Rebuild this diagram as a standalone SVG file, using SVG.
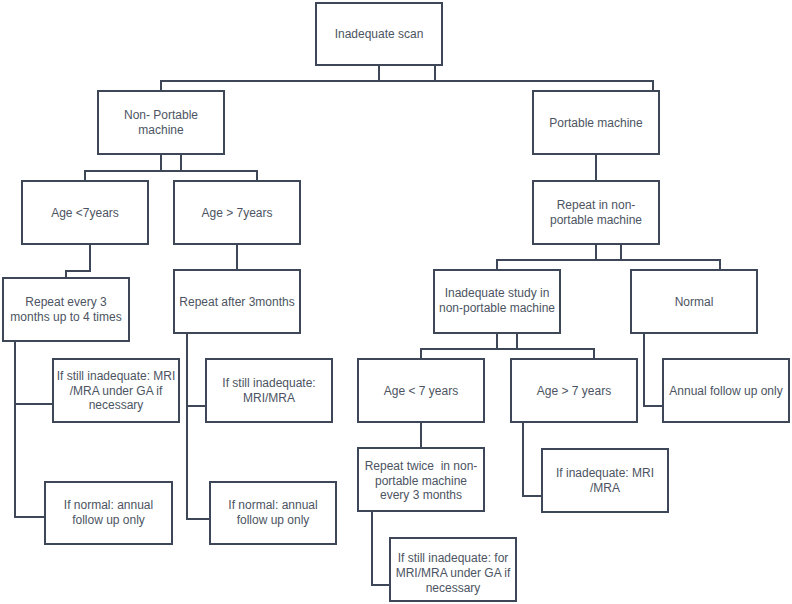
<svg xmlns="http://www.w3.org/2000/svg" width="792" height="604" viewBox="0 0 792 604">
<style>
rect{fill:#fff;stroke:#3d4757;stroke-width:2}
text{font-family:"Liberation Sans",Arial,sans-serif;font-size:12px;fill:#4c5462;text-anchor:middle}
#connectors path{fill:none;stroke:#3d4757;stroke-width:2}
</style>
<rect x="0" y="0" width="792" height="604" style="fill:#fff;stroke:none"/>
<g id="connectors">
<path d="M379,65V81M435,65V81M161,91V81H653V91"/>
<path d="M161,154V171M181,154V171M85,181V171H257V181"/>
<path d="M90,244V271H66V278"/>
<path d="M237,244V270"/>
<path d="M15,341V517H45M15,404H53"/>
<path d="M187,333V519H210M187,406H206"/>
<path d="M596,154V181"/>
<path d="M596,244V260M621,244V260M497,270V260H720V270"/>
<path d="M497,333V349M517,333V349M421,359V349H594V359"/>
<path d="M421,422V448"/>
<path d="M372,511V585H390"/>
<path d="M523,422V496H542"/>
<path d="M644,333V406H663"/>
</g>
<g id="scan"><rect x="316" y="3" width="126" height="62"/><text x="379" y="38">Inadequate scan</text></g>
<g id="nonportable"><rect x="98" y="91" width="126" height="63"/><text x="161" y="119">Non- Portable</text><text x="161" y="134">machine</text></g>
<g id="portable"><rect x="533" y="91" width="126" height="63"/><text x="596" y="126.5">Portable machine</text></g>
<g id="age1"><rect x="22" y="181" width="126" height="63"/><text x="85" y="216.5">Age &lt;7years</text></g>
<g id="age2"><rect x="174" y="181" width="126" height="63"/><text x="237" y="216.5">Age &gt; 7years</text></g>
<g id="repeat1"><rect x="3" y="278" width="126" height="63"/><text x="66" y="306">Repeat every 3</text><text x="66" y="321">months up to 4 times</text></g>
<g id="repeat2"><rect x="174" y="270" width="126" height="63"/><text x="237" y="305.5">Repeat after 3months</text></g>
<g id="still1"><rect x="53" y="359" width="126" height="63"/><text x="116" y="380">If still inadequate: MRI</text><text x="116" y="394.5">/MRA under GA if</text><text x="116" y="409">necessary</text></g>
<g id="normal1"><rect x="45" y="482" width="127" height="62"/><text x="108.5" y="509">If normal: annual</text><text x="108.5" y="524">follow up only</text></g>
<g id="still2"><rect x="206" y="359" width="126" height="63"/><text x="269" y="387">If still inadequate:</text><text x="269" y="402">MRI/MRA</text></g>
<g id="normal2"><rect x="210" y="482" width="126" height="62"/><text x="273" y="509">If normal: annual</text><text x="273" y="524">follow up only</text></g>
<g id="repeatnp"><rect x="533" y="181" width="126" height="63"/><text x="596" y="209">Repeat in non-</text><text x="596" y="224">portable machine</text></g>
<g id="inadstudy"><rect x="434" y="270" width="126" height="63"/><text x="497" y="297">Inadequate study in</text><text x="497" y="312">non-portable machine</text></g>
<g id="normal"><rect x="631" y="270" width="126" height="63"/><text x="694" y="305.5">Normal</text></g>
<g id="age3"><rect x="358" y="359" width="126" height="63"/><text x="421" y="394.5">Age &lt; 7 years</text></g>
<g id="age4"><rect x="511" y="359" width="126" height="63"/><text x="574" y="394.5">Age &gt; 7 years</text></g>
<g id="annual"><rect x="663" y="359" width="126" height="63"/><text x="726" y="394.5">Annual follow up only</text></g>
<g id="repeattwice"><rect x="358" y="448" width="126" height="63"/><text x="421" y="470" xml:space="preserve">Repeat twice  in non-</text><text x="421" y="484.5">portable machine</text><text x="421" y="499">every 3 months</text></g>
<g id="ifinadequate"><rect x="542" y="449" width="126" height="63"/><text x="605" y="477">If inadequate: MRI</text><text x="605" y="492">/MRA</text></g>
<g id="stillfor"><rect x="390" y="538" width="126" height="63"/><text x="453" y="562">If still inadequate: for</text><text x="453" y="577">MRI/MRA under GA if</text><text x="453" y="592">necessary</text></g>
</svg>
